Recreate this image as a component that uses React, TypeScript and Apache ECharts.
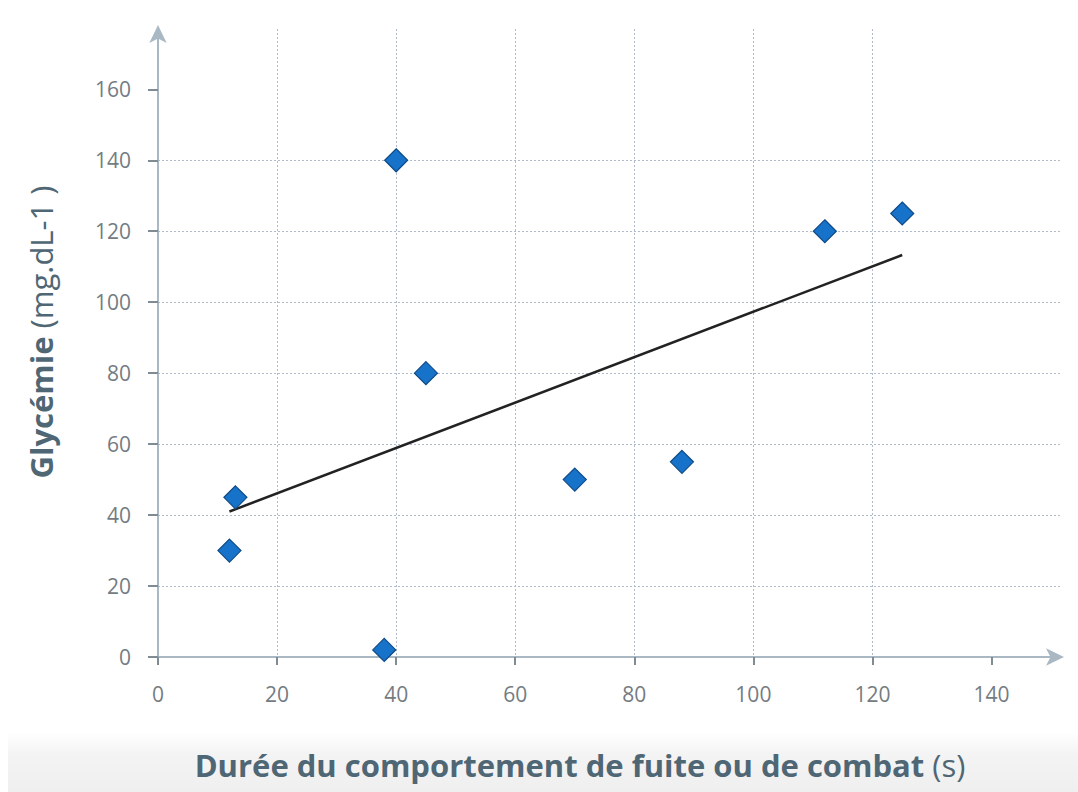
import React, { useEffect, useRef } from "react";
import * as echarts from "echarts";

const durations = [12, 13, 38, 40, 45, 70, 88, 112, 125];
const glycemia = [30, 45, 2, 140, 80, 50, 55, 120, 125];
const trendX = [12, 125];
const trendY = [41, 113.3];
const xTicks = [0, 20, 40, 60, 80, 100, 120, 140];
const yTicks = [0, 20, 40, 60, 80, 100, 120, 140, 160];

const xTitleBold = "Durée du comportement de fuite ou de combat";
const xTitleUnit = "(s)";
const yTitleBold = "Glycémie";
const yTitleUnit = "(mg.dL-1 )";

const FONT = "'Open Sans', sans-serif";

export default function App() {
  const ref = useRef<HTMLDivElement>(null);
  useEffect(() => {
    if (!ref.current) return;
    const chart = echarts.init(ref.current, null, { renderer: "svg" });
    const axisColor = "#a9b8c3";
    const gridColor = "#b0bccb";
    const labelColor = "#747c82";
    const titleColor = "#4f6775";
    chart.setOption({
      animation: false,
      backgroundColor: "#ffffff",
      graphic: [
        {
          type: "rect",
          silent: true,
          z: -10,
          shape: { x: 8, y: 732, width: 1070, height: 60 },
          style: {
            fill: new echarts.graphic.LinearGradient(0, 0, 0, 1, [
              { offset: 0, color: "#ffffff" },
              { offset: 0.35, color: "#f4f4f4" },
              { offset: 1, color: "#efefef" },
            ]),
          },
        },
      ],
      grid: {
        left: 158,
        right: 18,
        top: 29,
        bottom: 135,
        containLabel: false,
        outerBoundsMode: "none",
      },
      xAxis: {
        type: "value",
        min: 0,
        max: 151.5,
        interval: 20,
        name: `{b|${xTitleBold}}{n|${xTitleUnit}}`,
        nameLocation: "middle",
        nameGap: 92,
        nameTextStyle: {
          padding: [0, 58, 0, 0],
          rich: {
            b: { fontFamily: FONT, fontWeight: "bold", fontSize: 31, color: titleColor },
            n: { fontFamily: FONT, fontWeight: "normal", fontSize: 31, color: titleColor, padding: [0, 0, 0, 8] },
          },
        },
        axisLine: {
          show: true,
          lineStyle: { color: axisColor, width: 2 },
          symbol: ["none", "arrow"],
          symbolSize: [13, 18],
          symbolOffset: [0, 4],
        },
        axisTick: {
          show: true,
          length: 8,
          customValues: xTicks,
          lineStyle: { color: "#7f8c94", width: 2 },
        },
        axisLabel: {
          customValues: xTicks,
          margin: 26,
          color: labelColor,
          fontSize: 21,
          fontFamily: FONT,
        },
        splitLine: {
          show: true,
          showMinLine: false,
          showMaxLine: false,
          lineStyle: { color: gridColor, type: [2, 2], width: 1 },
        },
      },
      yAxis: {
        type: "value",
        min: 0,
        max: 177,
        interval: 20,
        name: `{b|${yTitleBold}}{n|${yTitleUnit}}`,
        nameLocation: "middle",
        nameGap: 102,
        nameRotate: 90,
        nameTextStyle: {
          padding: [0, 0, 0, 22],
          rich: {
            b: { fontFamily: FONT, fontWeight: "bold", fontSize: 31, color: titleColor },
            n: { fontFamily: FONT, fontWeight: "normal", fontSize: 31, color: titleColor, padding: [0, 0, 0, 8] },
          },
        },
        axisLine: {
          show: true,
          lineStyle: { color: axisColor, width: 2 },
          symbol: ["none", "arrow"],
          symbolSize: [13, 18],
          symbolOffset: [0, 4],
        },
        axisTick: {
          show: true,
          length: 10,
          customValues: yTicks,
          lineStyle: { color: "#7f8c94", width: 2 },
        },
        axisLabel: {
          customValues: yTicks,
          margin: 27,
          color: labelColor,
          fontSize: 21,
          fontFamily: FONT,
        },
        splitLine: {
          show: true,
          showMinLine: false,
          showMaxLine: false,
          lineStyle: { color: gridColor, type: [2, 2], width: 1 },
        },
      },
      series: [
        {
          type: "line",
          data: trendX.map((x, i) => [x, trendY[i]]),
          showSymbol: false,
          symbol: "none",
          lineStyle: { color: "#222222", width: 2.5 },
          z: 2,
        },
        {
          type: "scatter",
          data: durations.map((x, i) => [x, glycemia[i]]),
          symbol: "diamond",
          symbolSize: 23,
          itemStyle: { color: "#1773c9", borderColor: "#0f4a88", borderWidth: 1.2, opacity: 1 },
          z: 3,
        },
      ],
    });
    return () => chart.dispose();
  }, []);
  return (
    <div
      ref={ref}
      style={{ position: "fixed", left: 0, top: 0, width: 1078, height: 792 }}
    />
  );
}
